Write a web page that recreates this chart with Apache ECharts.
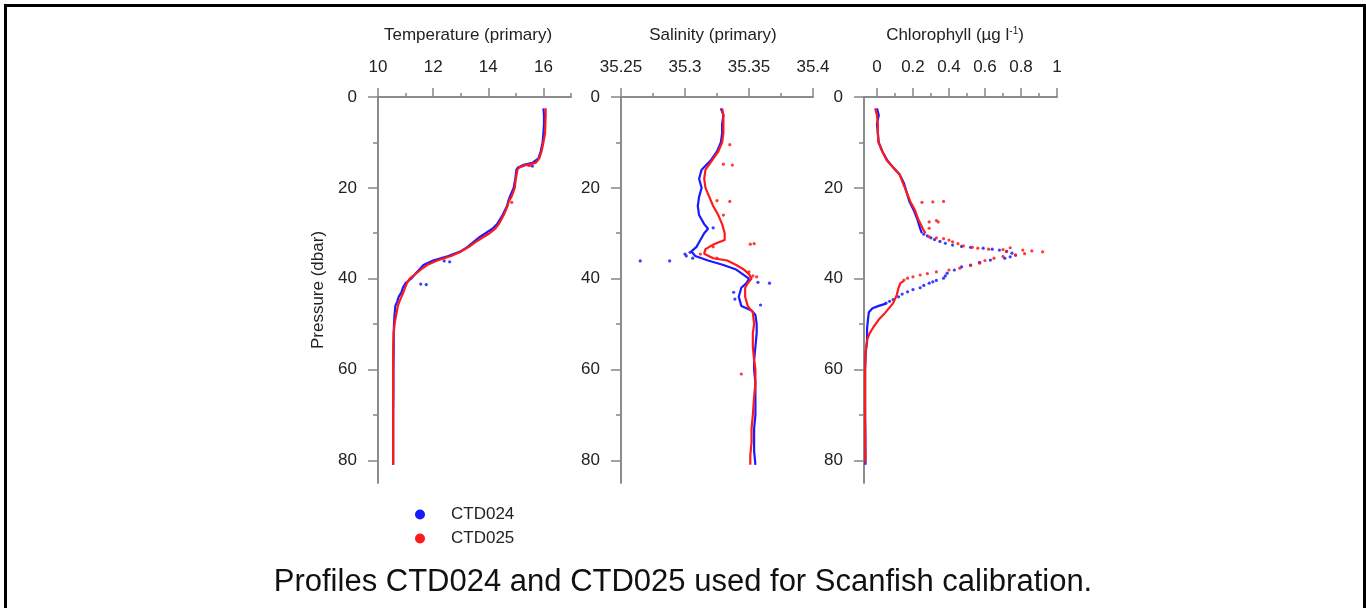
<!DOCTYPE html>
<html><head><meta charset="utf-8">
<script src="https://cdn.jsdelivr.net/npm/echarts@6/dist/echarts.min.js"></script>
<style>html,body{margin:0;padding:0;background:#fff}#c{width:1366px;height:608px}</style>
</head><body><div id="c"></div>
<script>
// ---------- Temperature ----------
const tempP = [2.5,4,6,8,10,12,13.5,14.5,15,15.5,16,18,20,22,23,24,26,28,29,30,31,32,33,34,35,36,37,38,39,40,41,42,43,44,45,46,48,50,52,55,60,65,70,75,81];
const temp024 = [16.0,16.02,16.02,16.0,15.97,15.9,15.82,15.6,15.25,15.08,15.02,14.98,14.92,14.78,14.72,14.68,14.52,14.32,14.15,13.9,13.65,13.45,13.25,13.0,12.55,12.0,11.65,11.5,11.35,11.2,11.0,10.9,10.85,10.75,10.7,10.63,10.6,10.58,10.57,10.57,10.56,10.56,10.55,10.55,10.55];
const temp025 = [16.08,16.08,16.07,16.06,16.0,15.93,15.85,15.72,15.35,15.13,15.06,15.0,14.96,14.84,14.74,14.7,14.56,14.38,14.25,14.05,13.78,13.52,13.3,13.02,12.65,12.15,11.78,11.55,11.35,11.15,11.05,10.98,10.92,10.85,10.78,10.72,10.66,10.6,10.57,10.55,10.55,10.55,10.55,10.55,10.55];
const tempDotP024 = [41.2,41.3,36.1,36.3,15.0,15.2];
const tempDot024 = [11.55,11.75,12.4,12.6,15.45,15.6];
const tempDotP025 = [29.5,30.2,30.6,15.1,23.2];
const tempDot025 = [14.1,13.95,13.8,15.5,14.85];

// ---------- Salinity ----------
const salP024 = [2.5,4,6,8,10,12,14,16,18,20,22,24,26,28,29,30,31,32,33,34,35,36,37,38,39,40,41,42,43,44,45,46,47,48,50,52,55,58,60,63,66,70,73,76,78,81];
const sal024 = [35.328,35.33,35.329,35.329,35.328,35.325,35.32,35.313,35.311,35.313,35.311,35.31,35.311,35.315,35.318,35.315,35.313,35.311,35.309,35.305,35.308,35.318,35.33,35.34,35.345,35.35,35.348,35.344,35.343,35.342,35.343,35.344,35.352,35.355,35.356,35.356,35.355,35.354,35.354,35.355,35.355,35.355,35.354,35.354,35.354,35.355];
const salP025 = [2.5,4,6,8,10,12,14,16,18,20,22,24,26,28,30,31.5,32.5,33.5,34.5,35.5,36,37,38,39,40,41,42,44,46,47.5,50,52,55,58,60,63,66,70,73,76,79,81];
const sal025 = [35.329,35.33,35.33,35.33,35.329,35.326,35.321,35.316,35.315,35.316,35.319,35.322,35.326,35.329,35.331,35.331,35.322,35.316,35.315,35.322,35.333,35.34,35.346,35.35,35.352,35.349,35.347,35.347,35.349,35.353,35.354,35.353,35.353,35.354,35.355,35.355,35.354,35.353,35.352,35.352,35.351,35.351];
const salDotP024 = [36.1,36.1,34.2,35.5,34.6,41.0,45.8,40.8,43.0,28.8,44.5,35.0];
const salDot024 = [35.265,35.288,35.304,35.306,35.300,35.366,35.359,35.357,35.338,35.322,35.339,35.301];
const salDotP025 = [10.5,15.0,14.8,23.0,22.8,32.4,32.3,35.5,38.5,39.4,39.6,61.0,26.0,33.0,34.6];
const salDot025 = [35.335,35.337,35.330,35.335,35.325,35.351,35.354,35.325,35.350,35.353,35.356,35.344,35.330,35.322,35.312];

// ---------- Chlorophyll ----------
const chlUpP024 = [2.5,4,6,8,10,12,14,15.5,17,19,21,23,25,27,29,30];
const chlUp024 = [0.0,0.01,0.0,0.005,0.01,0.03,0.058,0.09,0.125,0.15,0.165,0.18,0.205,0.225,0.24,0.25];
const chlLoP024 = [45.5,46,46.5,47.4,49,51,54,56,60,65,70,75,81];
const chlLo024 = [0.05,0.01,-0.025,-0.045,-0.05,-0.055,-0.055,-0.062,-0.066,-0.066,-0.066,-0.064,-0.064];
const chlDotP024 = [30.2,30.6,31,31.4,31.8,32.2,32.6,32.9,33.1,33.3,33.5,33.7,34,34.4,34.8,35.2,35.5,35.9,36.4,37,37.4,38.1,38.8,39.4,39.9,40.4,40.7,41,41.5,42,42.4,42.9,43.4,44,44.6,45,45.4];
const chlDot024 = [0.26,0.28,0.3,0.32,0.35,0.38,0.42,0.47,0.52,0.59,0.64,0.68,0.72,0.75,0.77,0.74,0.71,0.63,0.57,0.52,0.47,0.43,0.39,0.38,0.37,0.33,0.31,0.29,0.26,0.24,0.2,0.17,0.14,0.12,0.09,0.07,0.05];
const chlUpP025 = [2.5,4,6,8,10,12,14,15.5,17,19,21,23,25,27,29,30];
const chlUp025 = [-0.01,0.0,0.005,0.005,0.008,0.03,0.055,0.09,0.125,0.145,0.165,0.185,0.212,0.23,0.255,0.27];
const chlLoP025 = [40.5,41,42,43.6,45.4,47.6,49,50.7,52,53.5,56,60,65,70,75,80.5];
const chlLo025 = [0.15,0.13,0.12,0.11,0.09,0.044,0.01,-0.02,-0.04,-0.055,-0.063,-0.066,-0.066,-0.066,-0.066,-0.064];
const chlDotP025 = [30.8,31,31.2,31.5,31.9,32.3,32.8,33.1,33.3,33.5,33.6,33.7,33.9,34.1,34.5,34.8,35.1,35.5,36,36.6,37.1,37.7,38.1,38.5,38.9,39.2,39.6,39.9,40.3,23.2,23.1,23.0,27.5,27.5,28.9,27.2,33.2,34.0];
const chlDot025 = [0.29,0.33,0.37,0.4,0.42,0.45,0.48,0.53,0.56,0.62,0.7,0.81,0.86,0.92,0.82,0.77,0.7,0.65,0.6,0.57,0.52,0.46,0.4,0.33,0.28,0.24,0.2,0.17,0.15,0.25,0.31,0.37,0.29,0.34,0.29,0.33,0.74,0.72];

// ---------- Axis ticks / labels ----------
const pressMajor = [0,20,40,60,80];
const pressMinor = [10,30,50,70];
const tempMajor = [10,12,14,16];
const tempMinor = [11,13,15,17];
const salMajor = [35.25,35.3,35.35,35.4];
const salMinor = [35.275,35.325,35.375];
const chlMajor = [0,0.2,0.4,0.6,0.8,1];
const chlMinor = [0.1,0.3,0.5,0.7,0.9];

const FONT = '"Liberation Sans", Arial, sans-serif';
const AX = '#858585';
const TXT = '#222222';
const BLUE = '#1a1aff';
const RED = '#ff1a1a';

function pairs(xs, ps){ return xs.map((x,i)=>[x, ps[i]]); }

function xAx(grid, min, max, ticks, len, labels){
  return {
    type:'value', gridIndex:grid, position:'top', offset:0, min:min, max:max,
    axisLine:{show:true, onZero:false, lineStyle:{color:AX, width:1.5}},
    axisTick:{show:true, length:len, customValues:ticks, lineStyle:{color:AX, width:1.5}},
    axisLabel:{show:labels, customValues:ticks, margin:21, fontSize:17, color:TXT, fontFamily:FONT,
      formatter:v=>String(v)},
    splitLine:{show:false}
  };
}
function yAx(grid, ticks, len, labels){
  return {
    type:'value', gridIndex:grid, position:'left', offset:0, inverse:true, min:0, max:85,
    axisLine:{show:true, onZero:false, lineStyle:{color:AX, width:1.5}},
    axisTick:{show:true, length:len, customValues:ticks, lineStyle:{color:AX, width:1.5}},
    axisLabel:{show:labels, customValues:ticks, margin:21, fontSize:17, color:TXT, fontFamily:FONT,
      formatter:v=>String(v)},
    splitLine:{show:false}
  };
}
function lineS(name, color, xi, yi, data){
  return {type:'line', name:name, xAxisIndex:xi, yAxisIndex:yi, data:data, showSymbol:false, symbol:'none',
    smooth:false, lineStyle:{color:color, width:2.2}, itemStyle:{color:color}, silent:true};
}
function dotS(name, color, xi, yi, data){
  return {type:'scatter', name:name, xAxisIndex:xi, yAxisIndex:yi, data:data, symbolSize:3.2,
    itemStyle:{color:color, opacity:0.85}, silent:true};
}

const chart = echarts.init(document.getElementById('c'), null, {renderer:'canvas'});
chart.setOption({
  animation:false,
  backgroundColor:'#ffffff',
  title:{text:'Profiles CTD024 and CTD025 used for Scanfish calibration.', left:'center', top:562,
    textStyle:{fontSize:31, fontWeight:'normal', color:'#111', fontFamily:FONT}},
  legend:{orient:'vertical', left:410, top:501, itemWidth:10, itemHeight:10, itemGap:7,
    data:[{name:'CTD024', icon:'circle'},{name:'CTD025', icon:'circle'}],
    textStyle:{fontSize:17, color:TXT, fontFamily:FONT, padding:[0,0,0,21]}},
  grid:[
    {left:378, top:97, width:193, height:386},
    {left:621, top:97, width:192, height:386},
    {left:864, top:97, width:193, height:386}
  ],
  xAxis:[
    xAx(0,10,17,tempMajor,9,true), xAx(0,10,17,tempMinor,4,false),
    xAx(1,35.25,35.4,salMajor,9,true), xAx(1,35.25,35.4,salMinor,4,false),
    xAx(2,-0.072,1,chlMajor,9,true), xAx(2,-0.072,1,chlMinor,4,false)
  ],
  yAxis:[
    yAx(0,pressMajor,10,true), yAx(0,pressMinor,5,false),
    yAx(1,pressMajor,10,true), yAx(1,pressMinor,5,false),
    yAx(2,pressMajor,10,true), yAx(2,pressMinor,5,false)
  ],
  graphic:[
    {type:'rect', shape:{x:4,y:4,width:1362,height:3}, style:{fill:'#000'}, silent:true},
    {type:'rect', shape:{x:4,y:4,width:3,height:604}, style:{fill:'#000'}, silent:true},
    {type:'rect', shape:{x:1363,y:4,width:3,height:604}, style:{fill:'#000'}, silent:true},
    {type:'text', x:468, y:35, silent:true, style:{text:'Temperature (primary)', font:'17px '+FONT, fill:TXT, align:'center', verticalAlign:'middle'}},
    {type:'text', x:713, y:35, silent:true, style:{text:'Salinity (primary)', font:'17px '+FONT, fill:TXT, align:'center', verticalAlign:'middle'}},
    {type:'text', x:955, y:35, silent:true, style:{text:'Chlorophyll (\u00b5g l{sup|-1})', font:'17px '+FONT, fill:TXT, align:'center', verticalAlign:'middle',
      rich:{sup:{fontSize:10, fontFamily:FONT, fill:TXT, verticalAlign:'top', padding:[0,0,6,0]}}}},
    {type:'text', x:318, y:290, rotation:Math.PI/2, silent:true, style:{text:'Pressure (dbar)', font:'17px '+FONT, fill:TXT, align:'center', verticalAlign:'middle'}}
  ],
  series:[
    lineS('CTD024', BLUE, 0, 0, pairs(temp024, tempP)),
    dotS('CTD024', BLUE, 0, 0, pairs(tempDot024, tempDotP024)),
    lineS('CTD025', RED, 0, 0, pairs(temp025, tempP)),
    dotS('CTD025', RED, 0, 0, pairs(tempDot025, tempDotP025)),

    lineS('CTD024', BLUE, 2, 2, pairs(sal024, salP024)),
    dotS('CTD024', BLUE, 2, 2, pairs(salDot024, salDotP024)),
    lineS('CTD025', RED, 2, 2, pairs(sal025, salP025)),
    dotS('CTD025', RED, 2, 2, pairs(salDot025, salDotP025)),

    lineS('CTD024', BLUE, 4, 4, pairs(chlUp024, chlUpP024)),
    lineS('CTD024', BLUE, 4, 4, pairs(chlLo024, chlLoP024)),
    dotS('CTD024', BLUE, 4, 4, pairs(chlDot024, chlDotP024)),
    lineS('CTD025', RED, 4, 4, pairs(chlUp025, chlUpP025)),
    lineS('CTD025', RED, 4, 4, pairs(chlLo025, chlLoP025)),
    dotS('CTD025', RED, 4, 4, pairs(chlDot025, chlDotP025))
  ]
});
</script></body></html>
